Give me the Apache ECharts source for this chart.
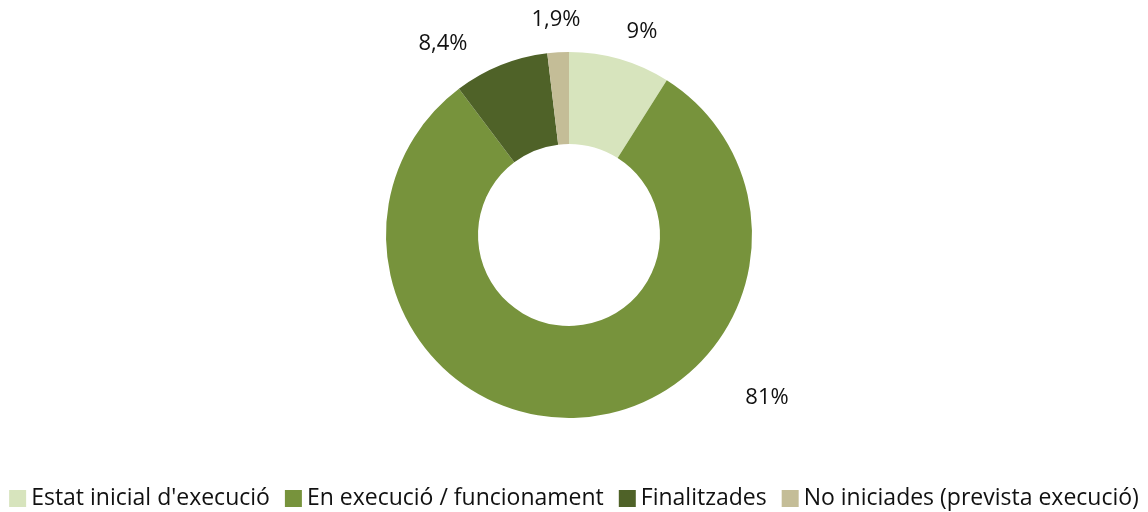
<!DOCTYPE html>
<html>
<head>
<meta charset="utf-8">
<script src="https://cdn.jsdelivr.net/npm/echarts@6/dist/echarts.min.js"></script>
<style>
  html, body { margin: 0; padding: 0; background: #fff; }
  #chart { width: 1148px; height: 512px; }
</style>
</head>
<body>
<div id="chart"></div>
<script>
// dades
const categories = ["Estat inicial d'execució", 'En execució / funcionament', 'Finalitzades', 'No iniciades (prevista execució)']
const values = [9, 81, 8.4, 1.9]
const colors = ['#d7e4bd', '#77933c', '#4f6228', '#c4bd97']
// posicions de les etiquetes (centre del text)
const labelPos = [[642, 32], [767, 398], [443, 44], [556, 20]]

const chart = echarts.init(document.getElementById('chart'))

const fmt = v => String(v).replace('.', ',') + '%'

chart.setOption({
  animation: false,
  textStyle: { fontFamily: 'Open Sans' },
  color: colors,
  legend: {
    bottom: -3,
    left: 'center',
    itemWidth: 17,
    itemHeight: 17,
    itemGap: 15,
    icon: 'rect',
    textStyle: { fontSize: 23, color: '#111', fontFamily: 'Open Sans' },
    data: categories
  },
  series: [
    {
      type: 'pie',
      center: [569, 235],
      radius: [91, 183],
      startAngle: 90,
      clockwise: true,
      avoidLabelOverlap: false,
      label: {
        show: true,
        position: 'outside',
        fontSize: 22,
        color: '#111',
        fontFamily: 'Open Sans',
        formatter: p => fmt(p.value)
      },
      labelLine: { show: false },
      labelLayout: p => ({
        x: labelPos[p.dataIndex][0],
        y: labelPos[p.dataIndex][1],
        align: 'center',
        verticalAlign: 'middle'
      }),
      data: categories.map((name, i) => ({ name, value: values[i] }))
    }
  ]
})
</script>
</body>
</html>
